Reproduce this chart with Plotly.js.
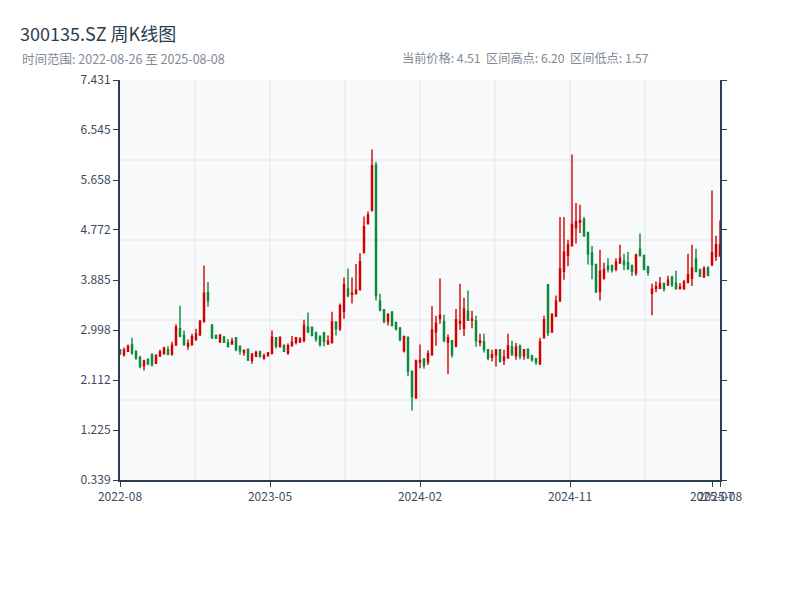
<!DOCTYPE html>
<html>
<head>
<meta charset="utf-8">
<script src="https://cdn.plot.ly/plotly-3.0.1.min.js"></script>
<style>html,body{margin:0;padding:0;background:#fff;}#chart{width:800px;height:600px;}</style>
</head>
<body>
<div id="chart"></div>
<script>
const symbol = '300135.SZ';
const dates = [
'2022-08-26','2022-09-02','2022-09-09','2022-09-16','2022-09-23','2022-09-30','2022-10-14','2022-10-21','2022-10-28','2022-11-04',
'2022-11-11','2022-11-18','2022-11-25','2022-12-02','2022-12-09','2022-12-16','2022-12-23','2022-12-30','2023-01-06','2023-01-13',
'2023-01-20','2023-02-03','2023-02-10','2023-02-17','2023-02-24','2023-03-03','2023-03-10','2023-03-17','2023-03-24','2023-03-31',
'2023-04-07','2023-04-14','2023-04-21','2023-04-28','2023-05-05','2023-05-12','2023-05-19','2023-05-26','2023-06-02','2023-06-09',
'2023-06-16','2023-06-23','2023-06-30','2023-07-07','2023-07-14','2023-07-21','2023-07-28','2023-08-04','2023-08-11','2023-08-18',
'2023-08-25','2023-09-01','2023-09-08','2023-09-15','2023-09-22','2023-09-28','2023-10-13','2023-10-20','2023-10-27','2023-11-03',
'2023-11-10','2023-11-17','2023-11-24','2023-12-01','2023-12-08','2023-12-15','2023-12-22','2023-12-29','2024-01-05','2024-01-12',
'2024-01-19','2024-01-26','2024-02-02','2024-02-08','2024-02-23','2024-03-01','2024-03-08','2024-03-15','2024-03-22','2024-03-29',
'2024-04-03','2024-04-12','2024-04-19','2024-04-26','2024-04-30','2024-05-10','2024-05-17','2024-05-24','2024-05-31','2024-06-07',
'2024-06-14','2024-06-21','2024-06-28','2024-07-05','2024-07-12','2024-07-19','2024-07-26','2024-08-02','2024-08-09','2024-08-16',
'2024-08-23','2024-08-30','2024-09-06','2024-09-13','2024-09-20','2024-09-27','2024-09-30','2024-10-11','2024-10-18','2024-10-25',
'2024-11-01','2024-11-08','2024-11-15','2024-11-22','2024-11-29','2024-12-06','2024-12-13','2024-12-20','2024-12-27','2025-01-03',
'2025-01-10','2025-01-17','2025-01-24','2025-01-27','2025-02-07','2025-02-14','2025-02-21','2025-02-28','2025-03-07','2025-03-14',
'2025-03-21','2025-03-28','2025-04-03','2025-04-11','2025-04-18','2025-04-25','2025-04-30','2025-05-09','2025-05-16','2025-05-23',
'2025-05-30','2025-06-06','2025-06-13','2025-06-20','2025-06-27','2025-07-04','2025-07-11','2025-07-18','2025-07-25','2025-08-01',
'2025-08-08'];
const openP = [
2.65,2.56,2.62,2.74,2.62,2.51,2.37,2.48,2.57,2.41, 2.54,2.58,2.65,2.57,2.73,3.02,2.90,2.71,2.74,2.83,
2.91,3.15,3.66,3.09,2.90,2.79,2.87,2.77,2.75,2.86, 2.71,2.60,2.66,2.46,2.53,2.62,2.50,2.54,2.58,2.86,
2.70,2.73,2.59,2.72,2.78,2.79,2.81,3.05,3.05,2.94, 2.89,2.95,2.75,2.77,3.14,3.02,3.33,3.73,3.63,3.64,
3.71,4.37,4.88,5.12,5.92,3.51,3.36,3.15,3.32,3.13, 3.03,2.63,2.87,2.27,1.79,2.43,2.48,2.43,2.56,2.96,
3.20,3.15,2.78,2.81,2.71,3.12,3.03,3.33,3.17,3.16, 2.78,2.79,2.65,2.52,2.56,2.65,2.46,2.50,2.70,2.54,
2.71,2.54,2.66,2.54,2.49,2.40,2.86,3.80,2.96,3.24, 3.51,4.04,4.32,4.49,4.81,4.91,4.96,4.73,4.36,4.16,
3.68,3.92,4.13,4.14,4.08,4.19,4.22,4.19,4.14,4.01, 4.43,4.32,4.12,3.65,3.74,3.74,3.82,3.80,3.93,3.83,
3.73,3.73,3.84,3.92,4.26,4.07,3.94,4.10,4.16,4.30, 4.31];
const highP = [
2.66,2.69,2.74,2.86,2.64,2.54,2.47,2.49,2.58,2.56, 2.65,2.70,2.71,2.79,3.10,3.43,2.99,2.83,2.93,3.02,
3.17,4.14,3.85,3.09,2.92,2.92,2.89,2.84,2.86,2.86, 2.72,2.65,2.67,2.59,2.63,2.63,2.58,2.61,2.99,2.87,
2.87,2.74,2.76,2.89,2.87,2.87,3.18,3.31,3.06,2.97, 2.90,2.96,2.90,3.32,3.14,3.47,3.93,4.09,3.93,4.17,
4.36,5.01,5.10,6.20,5.98,3.64,3.37,3.30,3.33,3.15, 3.05,2.90,2.87,2.28,2.47,2.74,2.50,2.64,3.42,3.25,
3.91,3.27,2.92,2.82,3.37,3.82,3.57,3.70,3.34,3.25, 2.93,2.93,2.66,2.65,2.66,2.65,2.65,2.93,2.81,2.77,
2.74,2.66,2.67,2.56,2.50,2.86,3.25,3.80,3.30,3.61, 5.00,5.00,4.60,6.11,5.25,5.22,5.00,4.74,4.49,4.16,
4.42,4.19,4.27,4.16,4.27,4.51,4.35,4.38,4.16,4.35, 4.71,4.33,4.13,3.82,3.86,3.94,3.84,3.96,3.96,4.05,
3.83,3.88,4.35,4.51,4.44,4.07,4.13,4.13,5.47,4.67, 4.94];
const lowP = [
2.56,2.53,2.61,2.56,2.47,2.32,2.28,2.38,2.35,2.40, 2.52,2.56,2.55,2.54,2.73,2.87,2.72,2.65,2.72,2.81,
2.90,3.13,3.41,2.84,2.84,2.77,2.77,2.69,2.74,2.62, 2.56,2.54,2.45,2.40,2.52,2.51,2.47,2.53,2.58,2.67,
2.69,2.61,2.56,2.72,2.74,2.77,2.78,2.96,2.90,2.79, 2.70,2.71,2.75,2.76,2.90,2.98,3.20,3.58,3.47,3.64,
3.70,4.36,4.87,5.10,3.52,3.33,3.12,3.08,3.06,2.99, 2.80,2.60,2.18,1.57,1.78,2.32,2.31,2.38,2.54,2.72,
3.11,2.78,2.22,2.51,2.71,3.00,2.89,3.17,3.03,2.70, 2.71,2.60,2.46,2.44,2.35,2.43,2.38,2.50,2.54,2.47,
2.48,2.47,2.49,2.44,2.38,2.38,2.85,2.89,2.96,3.24, 3.51,3.89,4.13,4.49,4.53,4.72,4.65,4.16,3.90,3.67,
3.52,3.89,4.02,4.02,4.04,4.17,4.06,4.07,3.96,3.96, 4.30,4.06,3.96,3.26,3.67,3.73,3.68,3.78,3.76,3.73,
3.73,3.71,3.83,3.78,4.02,3.95,3.92,3.95,4.13,4.22, 4.30];
const closeP = [
2.57,2.64,2.71,2.59,2.50,2.35,2.45,2.40,2.38,2.55, 2.61,2.68,2.57,2.73,3.05,2.89,2.74,2.76,2.88,2.93,
3.16,3.65,3.52,2.86,2.85,2.91,2.78,2.71,2.80,2.65, 2.63,2.64,2.47,2.57,2.60,2.53,2.54,2.59,2.87,2.71,
2.87,2.62,2.72,2.78,2.86,2.84,3.08,2.96,2.90,2.84, 2.74,2.80,2.80,3.14,3.02,3.43,3.80,3.61,3.65,3.71,
4.21,4.83,5.04,5.91,3.61,3.35,3.15,3.27,3.08,3.02, 2.83,2.88,2.27,1.82,2.46,2.46,2.37,2.58,3.00,3.12,
3.26,2.81,2.86,2.56,3.18,3.15,3.37,3.17,3.19,2.81, 2.81,2.65,2.50,2.56,2.64,2.44,2.52,2.72,2.56,2.70,
2.53,2.65,2.50,2.47,2.43,2.79,3.18,2.95,3.27,3.51, 4.08,4.38,4.51,4.87,4.92,4.94,4.67,4.35,4.16,3.67,
4.04,4.07,4.08,4.06,4.20,4.27,4.16,4.08,4.04,4.33, 4.32,4.07,4.02,3.72,3.77,3.82,3.73,3.88,3.80,3.73,
3.76,3.86,3.98,4.10,4.04,3.95,4.09,3.97,4.37,4.51, 4.51];
const yTicks = [0.339, 1.225, 2.112, 2.998, 3.885, 4.772, 5.658, 6.545, 7.431];
const xTickLabels = ['2022-08', '2023-05', '2024-02', '2024-11', '2025-07', '2025-08'];

const n = dates.length;
const idx = dates.map((d, i) => i);
const last = n - 1;
const xTickVals = [0, last * 0.25, last * 0.5, last * 0.75, dates.indexOf('2025-07-25'), last];

const hi = Math.max.apply(null, highP);
const lo = Math.min.apply(null, lowP);
const cur = closeP[last];

const FONT = 'Noto Sans CJK SC, Noto Sans, sans-serif';
const AX = '#2c3e50';
const GRID = '#e3e6eb';

const trace = {
  type: 'candlestick',
  x: idx,
  open: openP, high: highP, low: lowP, close: closeP,
  text: dates,
  hoverinfo: 'text',
  increasing: {line: {color: '#d40000', width: 1.4}, fillcolor: '#ee3030'},
  decreasing: {line: {color: '#0a8a3a', width: 1.4}, fillcolor: '#0a8a3a'},
  whiskerwidth: 0,
  showlegend: false
};

const shapes = [];
for (let k = 1; k < 8; k++) {
  shapes.push({type: 'line', xref: 'paper', yref: 'paper', x0: k / 8, x1: k / 8, y0: 0, y1: 1,
    line: {color: GRID, width: 1}, layer: 'below'});
}
for (let k = 1; k < 5; k++) {
  shapes.push({type: 'line', xref: 'paper', yref: 'paper', x0: 0, x1: 1, y0: k / 5, y1: k / 5,
    line: {color: GRID, width: 1}, layer: 'below'});
}

const layout = {
  width: 800, height: 600,
  margin: {l: 120, r: 80, t: 80, b: 120, pad: 0},
  paper_bgcolor: '#ffffff',
  plot_bgcolor: '#f7f9fb',
  font: {family: FONT, size: 12, color: AX},
  boxgap: 0.62,
  title: {
    text: symbol + ' 周K线图',
    xref: 'container', x: 20 / 800, xanchor: 'left',
    yref: 'container', y: 1 - 35 / 600, yanchor: 'middle',
    font: {family: FONT, size: 18, color: '#2c3e50'}
  },
  annotations: [
    {xref: 'paper', yref: 'paper', x: (20 - 120) / 600, y: (480 - 58) / 400, xanchor: 'left', yanchor: 'middle',
     showarrow: false, text: '时间范围: ' + dates[0] + ' 至 ' + dates[last],
     font: {family: FONT, size: 12.5, color: '#808a94'}},
    {xref: 'paper', yref: 'paper', x: (400 - 120) / 600, y: (480 - 58) / 400, xanchor: 'left', yanchor: 'middle',
     showarrow: false,
     text: '当前价格: ' + cur.toFixed(2) + '  区间高点: ' + hi.toFixed(2) + '  区间低点: ' + lo.toFixed(2),
     font: {family: FONT, size: 12.2, color: '#808a94'}}
  ],
  shapes: shapes,
  xaxis: {
    type: 'linear',
    range: [0, last],
    rangeslider: {visible: false},
    tickmode: 'array', tickvals: xTickVals, ticktext: xTickLabels,
    tickangle: 0,
    showgrid: false, zeroline: false,
    showline: true, linecolor: AX, linewidth: 2,
    ticks: 'outside', ticklen: 5, tickcolor: AX, tickwidth: 1,
    tickfont: {family: FONT, size: 12, color: '#3d4b5c'},
    fixedrange: true
  },
  yaxis: {
    range: [yTicks[0], yTicks[yTicks.length - 1]],
    tickmode: 'array', tickvals: yTicks, ticktext: yTicks.map(v => v.toFixed(3)),
    showgrid: false, zeroline: false,
    showline: true, linecolor: AX, linewidth: 2, mirror: 'ticks',
    ticks: 'outside', ticklen: 5, tickcolor: AX, tickwidth: 1,
    tickfont: {family: FONT, size: 12, color: '#3d4b5c'},
    fixedrange: true
  },
  hovermode: false
};

Plotly.newPlot('chart', [trace], layout, {displayModeBar: false, staticPlot: true});
</script>
</body>
</html>
